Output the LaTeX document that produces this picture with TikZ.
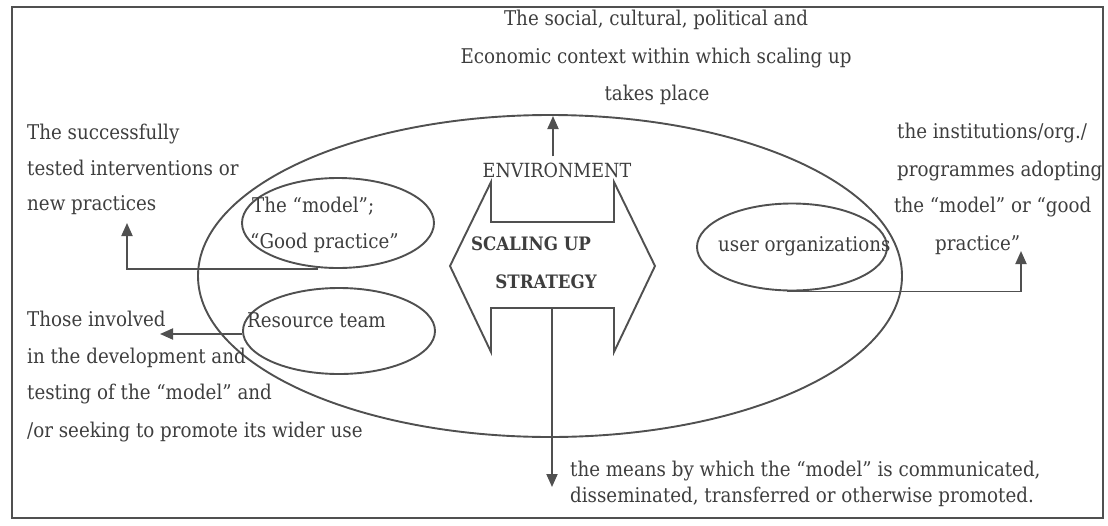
\documentclass[tikz,border=0pt]{standalone}
\usepackage{fontspec}
\setmainfont{DejaVu Serif Condensed}
\usetikzlibrary{shapes.geometric,arrows.meta}
\definecolor{ink}{HTML}{505050}
\definecolor{txt}{HTML}{3E3E3E}
\begin{document}
\begin{tikzpicture}[x=1pt,y=-1pt,
  line/.style={draw=ink,line width=1.9pt},
  arr/.style={line,-{Triangle[length=13pt,width=11pt]}},
  oval/.style={ellipse,draw=ink,line width=1.9pt,inner sep=0pt},
  lbl/.style={text=txt,inner sep=0pt,font=\fontsize{20.3}{20.3}\selectfont},
  elbl/.style={text=txt,inner sep=0pt,font=\fontsize{19.5}{19.5}\selectfont},
  blbl/.style={text=txt,inner sep=0pt,font=\fontsize{18.5}{18.5}\selectfont\bfseries}
]
\useasboundingbox (0,0) rectangle (1108,525);
\fill[white] (0,0) rectangle (1108,525);
\draw[ink,line width=1.5pt] (12,7) rectangle (1103,518);

% ellipses
\node[oval,minimum width=704pt,minimum height=322pt] (big) at (550,276) {};
\node[oval,minimum width=192pt,minimum height=90pt] (model) at (338,223) {};
\node[oval,minimum width=192pt,minimum height=86pt] (res) at (339,331) {};
\node[oval,minimum width=190pt,minimum height=87pt] (user) at (792,247) {};

% double block arrow
\draw[line,line join=miter] (491,182) -- (491,222) -- (614,222) -- (614,182) -- (655,266)
  -- (614,352) -- (614,308) -- (491,308) -- (491,352) -- (450,266) -- cycle;

% top context text
\node[lbl,anchor=base] (ctx1) at (656,25) {The social, cultural, political and};
\node[lbl,anchor=base] (ctx2) at (656,63) {Economic context within which scaling up};
\node[lbl,anchor=base] (ctx3) at (657,100) {takes place};

% left top text
\node[lbl,anchor=base west] (suc1) at (27,139) {The successfully};
\node[lbl,anchor=base west] (suc2) at (27,175) {tested interventions or};
\node[lbl,anchor=base west] (suc3) at (27,210) {new practices};

% right text
\node[lbl,anchor=base west] (ins1) at (897,138) {the institutions/org./};
\node[lbl,anchor=base west] (ins2) at (897,176) {programmes adopting};
\node[lbl,anchor=base west] (ins3) at (894,212) {the “model” or “good};
\node[lbl,anchor=base west] (ins4) at (935,250) {practice”};

% left bottom text
\node[lbl,anchor=base west] (inv1) at (27,326) {Those involved};
\node[lbl,anchor=base west] (inv2) at (27,363) {in the development and};
\node[lbl,anchor=base west] (inv3) at (27,399) {testing of the “model” and};
\node[lbl,anchor=base west] (inv4) at (27,437) {/or seeking to promote its wider use};

% bottom text
\node[lbl,anchor=base west] (mea1) at (570,476) {the means by which the “model” is communicated,};
\node[lbl,anchor=base west] (mea2) at (570,502) {disseminated, transferred or otherwise promoted.};

% inner labels
\node[lbl,anchor=base west] (mod1) at (252,212) {The “model”;};
\node[lbl,anchor=base west] (mod2) at (250,248) {“Good practice”};
\node[lbl,anchor=base west] (rest) at (247,327) {Resource team};
\node[lbl,anchor=base west] (usr) at (718,251) {user organizations};
\node[elbl,anchor=base] (env) at (557,177) {ENVIRONMENT};
\node[blbl,anchor=base] (sc1) at (531,250) {SCALING UP};
\node[blbl,anchor=base] (sc2) at (546,288) {STRATEGY};

% connectors
\coordinate (upTip) at (553,116);
\draw[arr] ([shift={(-4,-6)}]env.north) -- (upTip);
\coordinate (succTip) at (127,223);
\draw[arr] ([shift={(-20,0)}]model.south) -| (succTip);
\coordinate (invTip) at (160,334);
\draw[arr] ([shift={(0,3)}]res.west) -- (invTip);
\coordinate (adoptTip) at (1021,251);
\draw[arr] ([shift={(-5,0)}]user.south) -| (adoptTip);
\coordinate (downTop) at (552,308);
\coordinate (meansTip) at (552,487);
\draw[arr] (downTop) -- (meansTip);
\end{tikzpicture}
\end{document}
